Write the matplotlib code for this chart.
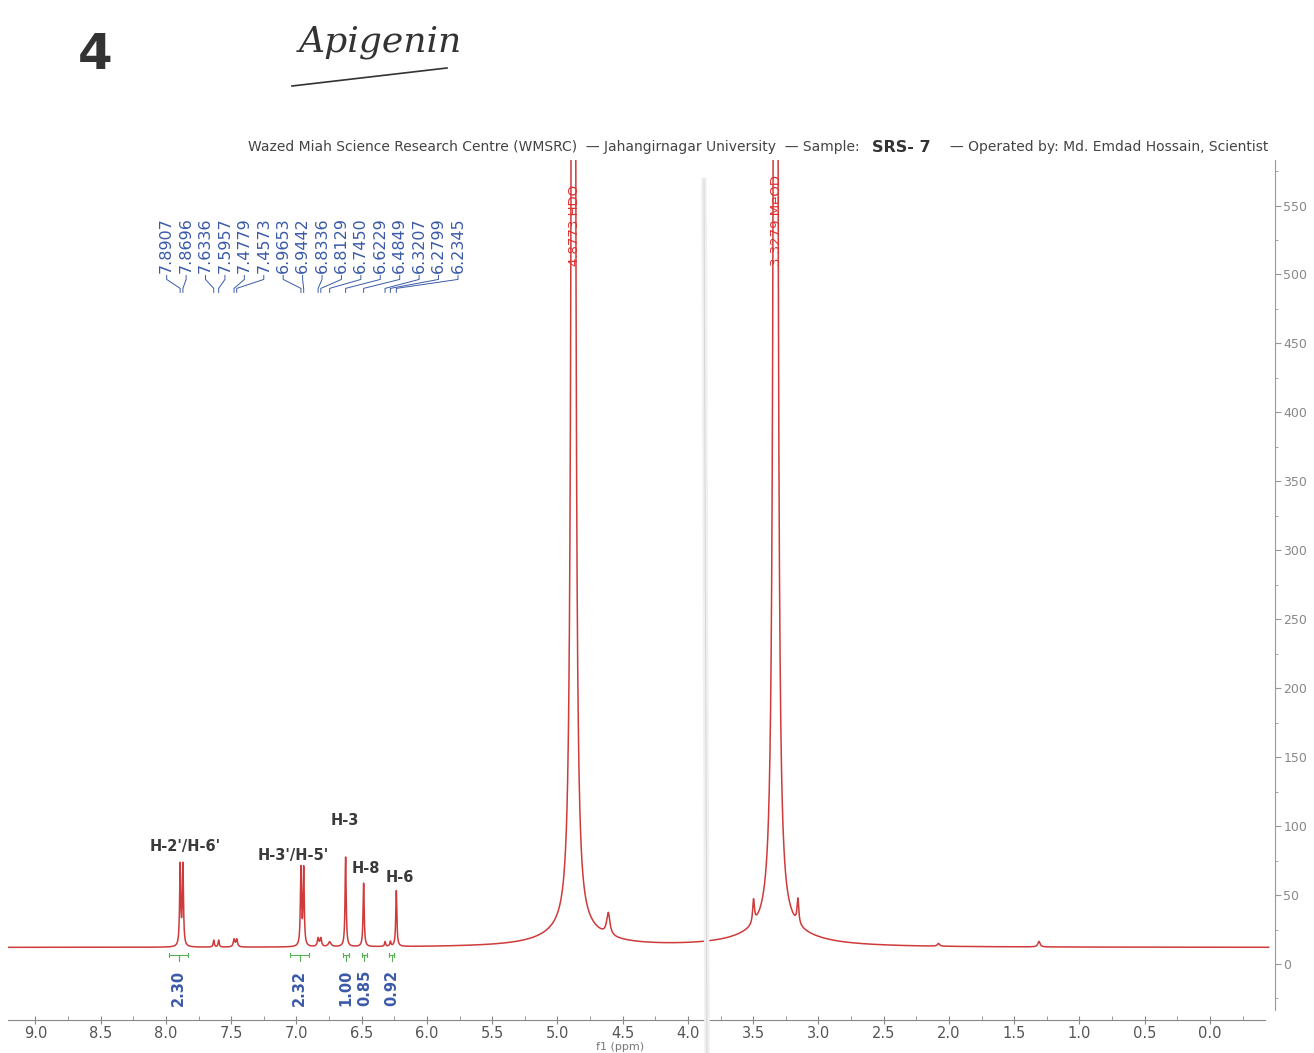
import numpy as np
import matplotlib.pyplot as plt
from matplotlib.lines import Line2D
from matplotlib.ticker import MultipleLocator

# peak picking list (ppm) and heights above baseline
peak_ppm = [7.8907, 7.8696, 7.6336, 7.5957, 7.4779, 7.4573, 6.9653, 6.9442,
            6.8336, 6.8129, 6.7450, 6.6229, 6.4849, 6.3207, 6.2799, 6.2345]
peak_height = [58.5, 58.5, 5.0, 5.0, 5.5, 5.5, 56.0, 56.0,
               6.0, 6.0, 3.5, 65.0, 46.0, 3.5, 3.5, 40.5]
peak_width = [0.005, 0.005, 0.005, 0.005, 0.007, 0.007, 0.005, 0.005,
              0.007, 0.007, 0.012, 0.005, 0.005, 0.005, 0.005, 0.005]

# solvent peaks: narrow core + broad foot, and small side peaks
solvent_ppm = [4.8773, 3.3279]
solvent_labels = ["4.8773 HDO", "3.3279 MeOD"]
solvent_core = [0.22, 0.25]       # height * width^2 of narrow core
solvent_core_w = [0.008, 0.009]
solvent_foot = [12.0, 12.0]
solvent_foot_w = [0.25, 0.30]
side_ppm = [4.61, 3.497, 3.157, 2.08, 1.31]
side_height = [16.0, 17.0, 18.0, 2.0, 4.0]
side_width = [0.015, 0.008, 0.008, 0.01, 0.01]
baseline = 12.0

# integrals
integral_ranges = [(7.976, 7.83), (7.05, 6.90), (6.64, 6.60), (6.50, 6.46), (6.29, 6.25)]
integral_values = ["2.30", "2.32", "1.00", "0.85", "0.92"]

# assignments
assign_text = ["H-2'/H-6'", "H-3'/H-5'", "H-3", "H-8", "H-6"]
assign_ppm = [7.854, 7.026, 6.628, 6.467, 6.206]
assign_y = [85.5, 79.0, 104.0, 69.6, 63.0]

x_ticks = np.arange(0.0, 9.01, 0.5)
y_ticks = np.arange(0, 551, 50)


def lorentz(x, x0, h, w):
    return h * w ** 2 / ((x - x0) ** 2 + w ** 2)


ppm = np.linspace(9.21, -0.45, 80000)
spec = np.full_like(ppm, baseline)
for p, h, w in zip(peak_ppm, peak_height, peak_width):
    spec += lorentz(ppm, p, h, w)
for p, a, w, fh, fw in zip(solvent_ppm, solvent_core, solvent_core_w, solvent_foot, solvent_foot_w):
    spec += lorentz(ppm, p, a / w ** 2, w) + lorentz(ppm, p, fh, fw)
for p, h, w in zip(side_ppm, side_height, side_width):
    spec += lorentz(ppm, p, h, w)

W, H = 1314, 1053
fig = plt.figure(figsize=(W / 100, H / 100), dpi=100)
ax = fig.add_axes([8 / W, 1 - 1020 / H, (1275 - 8) / W, (1020 - 160) / H])

red = '#cf3a3a'
blue = '#3a5aa8'
ax.plot(ppm, spec, color=red, lw=1.1)
ax.set_xlim(9.21, -0.499)
ax.set_ylim(-40.6, 583)

for s in ['top', 'left']:
    ax.spines[s].set_visible(False)
ax.spines['bottom'].set_bounds(9.21, -0.42)
ax.spines['right'].set_bounds(-33, 583)
ax.spines['bottom'].set_color('#888888')
ax.spines['right'].set_color('#999999')
ax.xaxis.set_major_locator(MultipleLocator(0.5))
ax.xaxis.set_minor_locator(MultipleLocator(0.25))
ax.set_xticks(x_ticks)
ax.set_xticklabels([f"{t:.1f}" for t in x_ticks])
ax.yaxis.tick_right()
ax.set_yticks(y_ticks)
ax.yaxis.set_minor_locator(MultipleLocator(25))
ax.tick_params(axis='x', which='major', direction='inout', length=6, color='#888888',
               labelsize=10.5, labelcolor='#555555', pad=1)
ax.tick_params(axis='x', which='minor', direction='in', length=3, color='#888888')
ax.tick_params(axis='y', which='major', direction='out', length=4, color='#999999',
               labelsize=9, labelcolor='#888888', pad=2)
ax.tick_params(axis='y', which='minor', direction='out', length=2, color='#999999')

# peak picking labels with connectors
label_x = np.linspace(7.994, 5.762, len(peak_ppm))
for lx, p in zip(label_x, peak_ppm):
    ax.text(lx, 501, f"{p:.4f}", rotation=90, ha='center', va='bottom',
            fontsize=11.5, color=blue)
    ax.plot([lx, lx, p, p], [499.3, 496.4, 489.9, 487.0], color=blue, lw=0.7)

# solvent labels
for p, t in zip(solvent_ppm, solvent_labels):
    ax.text(p - 0.01, 506, t, rotation=90, ha='center', va='bottom',
            fontsize=9.5, color='#e03030')

# integrals
green = '#55b055'
for (a, b), v in zip(integral_ranges, integral_values):
    c = (a + b) / 2
    ax.plot([a, b], [6.5, 6.5], color=green, lw=0.8)
    ax.plot([a, a], [5.0, 8.0], color=green, lw=0.8)
    ax.plot([b, b], [5.0, 8.0], color=green, lw=0.8)
    ax.plot([c, c], [6.5, 2.0], color=green, lw=0.8)
    ax.text(c, -4.3, v, rotation=90, ha='center', va='top', fontsize=10.5,
            color=blue, fontweight='bold')

# assignments
for t, x, y in zip(assign_text, assign_ppm, assign_y):
    ax.text(x, y, t, ha='center', va='center', fontsize=10.5, fontweight='bold',
            color='#3a3a3a')

# axis title near the page edge
fig.text(620 / W, 1 - 1052 / H, "f1 (ppm)", ha='center', va='bottom',
         fontsize=8, color='#777777')

# header line
hy = 1 - 147 / H
fig.text(860 / W, hy, "Wazed Miah Science Research Centre (WMSRC)  \u2014 Jahangirnagar University  \u2014 Sample:",
         ha='right', va='center', fontsize=10, color='#444444')
fig.text(872 / W, hy, "SRS- 7", ha='left', va='center', fontsize=11.5,
         fontweight='bold', color='#333333')
fig.text(1268 / W, hy, "\u2014 Operated by: Md. Emdad Hossain, Scientist",
         ha='right', va='center', fontsize=10, color='#444444')

# handwritten page marks
fig.text(95 / W, 1 - 55 / H, "4", ha='center', va='center', fontsize=36,
         fontweight='bold', color='#333333',
         family=['Liberation Sans Narrow', 'DejaVu Sans'])
fig.text(380 / W, 1 - 42 / H, "Apigenin", ha='center', va='center', fontsize=26,
         style='italic', color='#333333', family='DejaVu Serif')
fig.add_artist(Line2D([292 / W, 447 / W], [1 - 86 / H, 1 - 68 / H],
                      color='#333333', lw=1.2))

# paper fold
fig.add_artist(Line2D([704 / W, 707 / W], [1 - 180 / H, 0], color='#f0f0f0', lw=4))
fig.add_artist(Line2D([704 / W, 707 / W], [1 - 180 / H, 0], color='#d6d6d6', lw=0.7))

fig.savefig('out.png', dpi=100)
